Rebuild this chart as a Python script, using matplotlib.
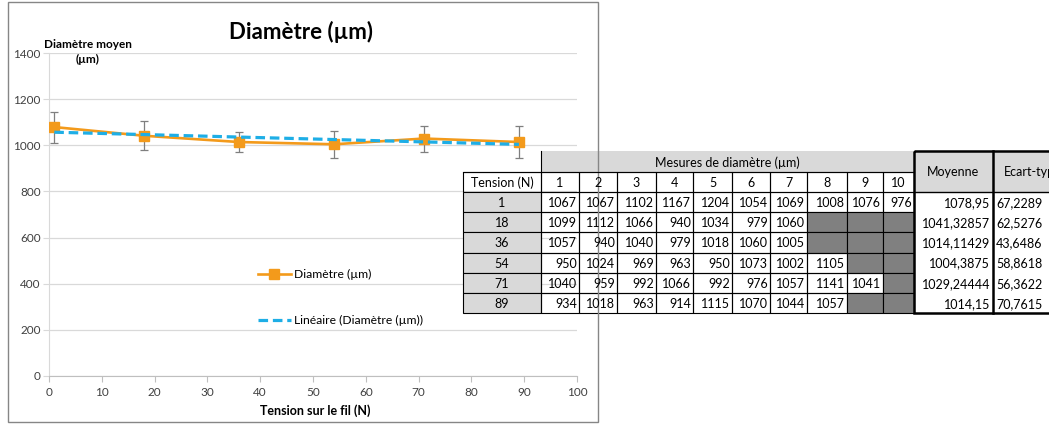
import numpy as np
import matplotlib
matplotlib.use('Agg')
import matplotlib.pyplot as plt
from matplotlib.patches import Rectangle

plt.rcParams['font.family'] = ['Lato', 'DejaVu Sans']

# data
tension = [1, 18, 36, 54, 71, 89]
moyenne = [1078.95, 1041.32857, 1014.11429, 1004.3875, 1029.24444, 1014.15]
ecart_type = [67.2289, 62.5276, 43.6486, 58.8618, 56.3622, 70.7615]
mesures = [
    [1067, 1067, 1102, 1167, 1204, 1054, 1069, 1008, 1076, 976],
    [1099, 1112, 1066, 940, 1034, 979, 1060, None, None, None],
    [1057, 940, 1040, 979, 1018, 1060, 1005, None, None, None],
    [950, 1024, 969, 963, 950, 1073, 1002, 1105, None, None],
    [1040, 959, 992, 1066, 992, 976, 1057, 1141, 1041, None],
    [934, 1018, 963, 914, 1115, 1070, 1044, 1057, None, None],
]
moyenne_txt = ['1078,95', '1041,32857', '1014,11429', '1004,3875', '1029,24444', '1014,15']
ecart_txt = ['67,2289', '62,5276', '43,6486', '58,8618', '56,3622', '70,7615']
x_ticks = list(range(0, 101, 10))
y_ticks = list(range(0, 1401, 200))

W, H = 1049, 424
fig = plt.figure(figsize=(W / 100, H / 100), dpi=100)

# chart
ax = fig.add_axes([49 / W, 1 - 376 / H, 528 / W, 323 / H])
orange = '#F39A1B'
blue = '#1EAEE6'
ax.errorbar(tension, moyenne, yerr=ecart_type, fmt='none', ecolor='#7F7F7F',
            elinewidth=0.9, capsize=3, capthick=0.9, zorder=3)
ax.plot(tension, moyenne, color=orange, lw=1.9, marker='s', ms=7.5,
        label='Diamètre (µm)', zorder=4)
coef = np.polyfit(tension, moyenne, 1)
xt = np.array([tension[0], tension[-1]])
ax.plot(xt, np.polyval(coef, xt), color=blue, lw=2.3, ls=(0, (3, 1.5)),
        label='Linéaire (Diamètre (µm))', zorder=5)

ax.set_xlim(0, 100)
ax.set_ylim(0, 1400)
ax.set_xticks(x_ticks)
ax.set_yticks(y_ticks)
ax.grid(axis='y', color='#D9D9D9', lw=0.9)
ax.set_axisbelow(True)
for s in ['top', 'right']:
    ax.spines[s].set_visible(False)
ax.spines['left'].set_color('#D9D9D9')
ax.spines['bottom'].set_color('#BFBFBF')
ax.tick_params(axis='y', length=4, color='#D9D9D9', labelsize=8.5, labelcolor='#404040', pad=2)
ax.tick_params(axis='x', length=4, color='#BFBFBF', labelsize=8.5, labelcolor='#404040', pad=4)
ax.patch.set_alpha(0)

fig.text(301 / W, 1 - 32 / H, 'Diamètre (µm)', fontsize=16, fontweight='bold',
         ha='center', va='center')
fig.text(88 / W, 1 - 44 / H, 'Diamètre moyen', fontsize=8.5, fontweight='bold',
         ha='center', va='center')
fig.text(88 / W, 1 - 59 / H, '(µm)', fontsize=8.5, fontweight='bold',
         ha='center', va='center')
fig.text(315 / W, 1 - 411 / H, 'Tension sur le fil (N)', fontsize=9, fontweight='bold',
         ha='center', va='center')

ax.legend(loc='center left', bbox_to_anchor=((258 - 49) / 528, (376 - 297.5) / 323),
          frameon=False, fontsize=8.7, handlelength=2.7, handletextpad=0.3,
          labelspacing=2.9, borderpad=0, borderaxespad=0)

# table, drawn in pixel coordinates
tx = fig.add_axes([0, 0, 1, 1])
tx.set_xlim(0, W)
tx.set_ylim(H, 0)
tx.axis('off')
tx.patch.set_alpha(0)

cols = [463, 541, 579, 617, 656, 693, 732, 770, 807, 847, 883, 914, 993, 1070]
rows = [151, 172, 192] + [192 + 20.17 * (i + 1) for i in range(6)]
light = '#D9D9D9'
dark = '#808080'
fs = 9

def box(x0, y0, x1, y1, fc='none', lw=0.8):
    tx.add_patch(Rectangle((x0, y0), x1 - x0, y1 - y0, fc=fc, ec='black', lw=lw))

# header
tx.add_patch(Rectangle((cols[1], rows[0]), cols[11] - cols[1], rows[1] - rows[0],
                       fc=light, ec='none'))
tx.plot([cols[1], cols[1]], [rows[0], rows[1]], color='black', lw=0.8)
tx.plot([cols[0], cols[11]], [rows[1], rows[1]], color='black', lw=0.8)
tx.text((cols[1] + cols[11]) / 2, (rows[0] + rows[1]) / 2 + 1, 'Mesures de diamètre (µm)',
        fontsize=fs, ha='center', va='center')
box(cols[0], rows[1], cols[1], rows[2])
tx.text((cols[0] + cols[1]) / 2, (rows[1] + rows[2]) / 2 + 1, 'Tension (N)',
        fontsize=fs, ha='center', va='center')
for j in range(10):
    box(cols[j + 1], rows[1], cols[j + 2], rows[2])
    tx.text((cols[j + 1] + cols[j + 2]) / 2, (rows[1] + rows[2]) / 2 + 1, str(j + 1),
            fontsize=fs, ha='center', va='center')

# data rows
for i, t in enumerate(tension):
    y0, y1 = rows[i + 2], rows[i + 3]
    yc = (y0 + y1) / 2 + 1
    box(cols[0], y0, cols[1], y1, fc=light)
    tx.text((cols[0] + cols[1]) / 2, yc, str(t), fontsize=fs, ha='center', va='center')
    for j, v in enumerate(mesures[i]):
        if v is None:
            box(cols[j + 1], y0, cols[j + 2], y1, fc=dark)
        else:
            box(cols[j + 1], y0, cols[j + 2], y1)
            tx.text(cols[j + 2] - 2, yc, str(v), fontsize=fs, ha='right', va='center')
    tx.text(cols[12] - 3, yc, moyenne_txt[i], fontsize=fs, ha='right', va='center')
    tx.text(cols[12] + 3, yc, ecart_txt[i], fontsize=fs, ha='left', va='center')

# moyenne / ecart-type block
tx.add_patch(Rectangle((cols[11], rows[0]), cols[13] - cols[11], rows[2] - rows[0],
                       fc=light, ec='none'))
tx.text((cols[11] + cols[12]) / 2, (rows[0] + rows[2]) / 2, 'Moyenne',
        fontsize=fs, ha='center', va='center')
tx.text(1033, (rows[0] + rows[2]) / 2, 'Ecart-type', fontsize=fs, ha='center', va='center')
tx.plot([cols[11], cols[13]], [rows[2], rows[2]], color='black', lw=1.0)
box(cols[11], rows[0], cols[13], rows[-1], lw=1.8)
tx.plot([cols[12], cols[12]], [rows[0], rows[-1]], color='black', lw=1.8)

# chart frame
tx.add_patch(Rectangle((8, 2), 590, 420, fc='none', ec='#868686', lw=1.0))

fig.savefig('out.png', dpi=100)
